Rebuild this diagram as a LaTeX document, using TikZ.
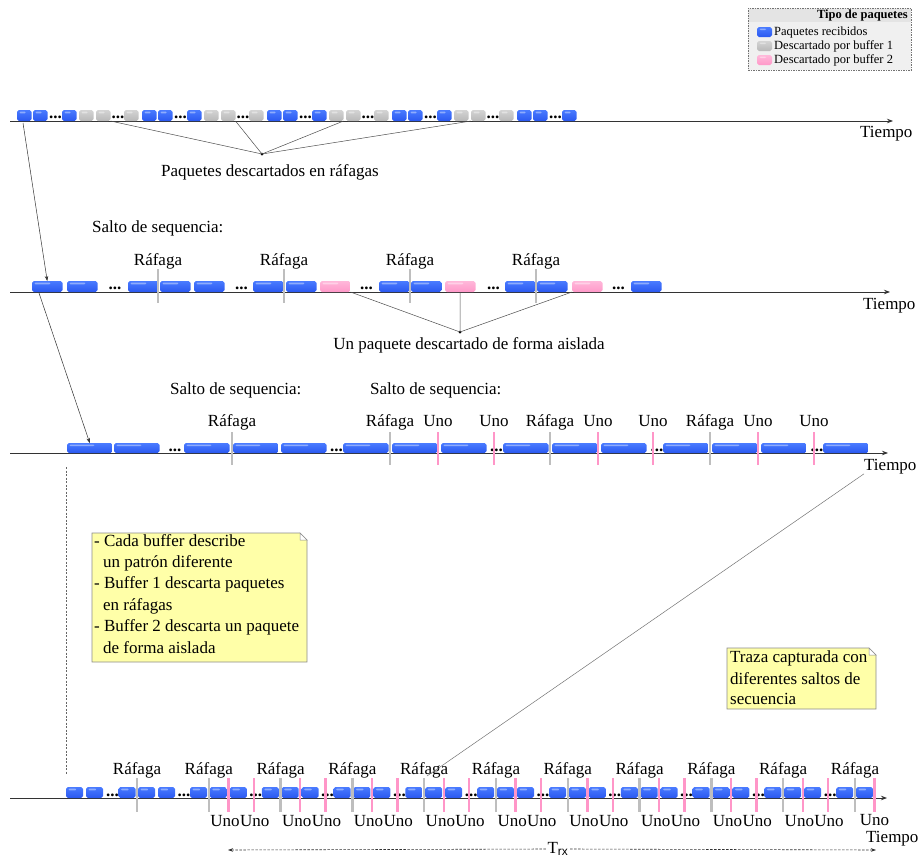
\documentclass[tikz,border=0pt]{standalone}
\usepackage{fontspec}
\setmainfont{Liberation Serif}
\setsansfont{Liberation Sans}
\usetikzlibrary{arrows.meta,calc}
\definecolor{pbT}{HTML}{4A7BFF}
\definecolor{pbB}{HTML}{2A58F0}
\definecolor{pgT}{HTML}{D4D4D4}
\definecolor{pgB}{HTML}{B8B8B8}
\definecolor{ppT}{HTML}{FFB8DA}
\definecolor{ppB}{HTML}{FF98C8}
\definecolor{mkgray}{HTML}{BEBEBE}
\definecolor{mkpink}{HTML}{FF96C8}
\definecolor{notefill}{HTML}{FFFFA8}
\definecolor{legbg}{HTML}{F0F0F0}
\definecolor{leghd}{HTML}{E4E4E4}
\definecolor{axisc}{HTML}{333333}
\tikzset{
  pk/.style={rounded corners=1.8pt, inner sep=0pt, outer sep=0pt, anchor=south west,
    path picture={\fill[white,opacity=.4,rounded corners=1pt]
      ($(path picture bounding box.north west)+(2.5,1.5)$) rectangle
      ($(path picture bounding box.north west)!0.6!(path picture bounding box.east)$);}},
  pB/.style={pk, top color=pbT, bottom color=pbB},
  pG/.style={pk, top color=pgT, bottom color=pgB},
  pP/.style={pk, top color=ppT, bottom color=ppB},
  s1/.style={minimum width=14.5pt, minimum height=11pt},
  s2/.style={minimum width=30.5pt, minimum height=11pt},
  s3/.style={minimum width=45.5pt, minimum height=10pt},
  s4/.style={minimum width=17pt, minimum height=11pt},
  dts/.style={font=\fontsize{17}{20}\selectfont\bfseries, anchor=base, inner sep=0pt},
  mkG/.style={fill=mkgray, draw=none, minimum width=2.4pt, minimum height=34pt, inner sep=0pt},
  mkP/.style={fill=mkpink, draw=none, minimum width=2.4pt, minimum height=34pt, inner sep=0pt},
  lbl/.style={font=\fontsize{17}{20}\selectfont, anchor=base, inner sep=0pt},
  timeline/.style={draw=axisc, line width=0.8pt, -{Stealth[length=6pt,width=4.5pt]}},
  conn/.style={draw=black!70, line width=0.5pt},
  arr/.style={draw=black!80, line width=0.5pt, -{Stealth[length=5pt,width=3.5pt]}},
  dashln/.style={draw=black!80, line width=0.6pt, dash pattern=on 2.5pt off 1.5pt, -{Stealth[length=5pt,width=3.5pt]}},
  notebox/.style={fill=notefill, draw=black!45, line width=0.6pt},
  notefold/.style={fill=white, draw=black!45, line width=0.5pt},
  dotpt/.style={circle, fill=black, inner sep=0pt, minimum size=3pt},
  lgt/.style={font=\fontsize{12.5}{14}\selectfont, anchor=base west, inner sep=0pt},
}
\begin{document}
\begin{tikzpicture}[x=1pt,y=-1pt]
\useasboundingbox (0,0) rectangle (922,857);
% ---------- legend
\node[draw=black!55, dash pattern=on 1.5pt off 1pt, fill=legbg, anchor=north west,
      minimum width=163pt, minimum height=62pt, inner sep=0pt] (leg) at (748,8) {};
\node[fill=leghd, anchor=north west, minimum width=162pt, minimum height=13pt, inner sep=0pt] (leghead) at (748.5,8.5) {};
\node[font=\fontsize{12.5}{14}\selectfont\bfseries, anchor=base east, inner sep=0pt] (legt) at (908,18.5) {Tipo de paquetes};
\node[pB, minimum width=15pt, minimum height=10pt] (ls1) at (757,37) {};
\node[pG, minimum width=15pt, minimum height=10pt] (ls2) at (757,51) {};
\node[pP, minimum width=15pt, minimum height=10pt] (ls3) at (757,65) {};
\node[lgt] (lt1) at (774,35.5) {Paquetes recibidos};
\node[lgt] (lt2) at (774,49.5) {Descartado por buffer 1};
\node[lgt] (lt3) at (774,63.5) {Descartado por buffer 2};
% ---------- timelines
\coordinate (a1s) at (10,121);  \coordinate (a1e) at (893,121);
\coordinate (a2s) at (10,292);  \coordinate (a2e) at (890,292);
\coordinate (a3s) at (10,453);  \coordinate (a3e) at (888,453);
\coordinate (a4s) at (10,798);  \coordinate (a4e) at (887,798);
\draw[timeline] (a1s) -- (a1e);
\draw[timeline] (a2s) -- (a2e);
\draw[timeline] (a3s) -- (a3e);
\draw[timeline] (a4s) -- (a4e);
\node[lbl, anchor=base west] (t1) at (860,137) {Tiempo};
\node[lbl, anchor=base west] (t2) at (863,309) {Tiempo};
\node[lbl, anchor=base west] (t3) at (864,470) {Tiempo};
\node[lbl, anchor=base west] (t4) at (866,842.5) {Tiempo};
% ---------- row 1
\foreach \u [count=\i] in {17,142,267,392}{
  \node[pB,s1] (r1a\i) at (\u,121) {};
  \node[pB,s1] (r1b\i) at (\u+16,121) {};
  \node[dts] (r1x\i) at (\u+38.5,118.5) {...};
  \node[pB,s1] (r1c\i) at (\u+45,121) {};
  \node[pG,s1] (r1d\i) at (\u+62,121) {};
  \node[pG,s1] (r1e\i) at (\u+79,121) {};
  \node[dts] (r1y\i) at (\u+101,118.5) {...};
  \node[pG,s1] (r1f\i) at (\u+107,121) {};
}
\node[pB,s1] (r1a5) at (517,121) {};
\node[pB,s1] (r1b5) at (533,121) {};
\node[dts] (r1x5) at (555.5,118.5) {...};
\node[pB,s1] (r1c5) at (562,121) {};
\node[dotpt] (n1) at (262,154) {};
\draw[conn] (n1.center) -- (r1e1.south east);
\draw[conn] (n1.center) -- (r1e2.south east);
\draw[conn] (n1.center) -- (r1d3.south east);
\draw[conn] (n1.center) -- (r1e4.south west);
\node[lbl] (l1) at (270,176) {Paquetes descartados en ráfagas};
% ---------- row 2
\node[lbl, anchor=base west] (s2) at (92,232) {Salto de sequencia:};
\node[pB,s2] (r2p1) at (32,292) {};
\node[pB,s2] (r2p2) at (67,292) {};
\node[dts] (r2d1) at (115,289) {...};
\node[pB,s2] (r2p3) at (128,292) {};
\node[pB,s2] (r2p4) at (160,292) {};
\node[pB,s2] (r2p5) at (194,292) {};
\node[dts] (r2d2) at (241.5,289) {...};
\node[pB,s2] (r2p6) at (253,292) {};
\node[pB,s2] (r2p7) at (286,292) {};
\node[pP,s2] (r2p8) at (320,292) {};
\node[dts] (r2d3) at (366.5,289) {...};
\node[pB,s2] (r2p9) at (379,292) {};
\node[pB,s2] (r2p10) at (411,292) {};
\node[pP,s2] (r2p11) at (445,292) {};
\node[dts] (r2d4) at (493.5,289) {...};
\node[pB,s2] (r2p12) at (505,292) {};
\node[pB,s2] (r2p13) at (537,292) {};
\node[pP,s2] (r2p14) at (572,292) {};
\node[dts] (r2d5) at (618.5,289) {...};
\node[pB,s2] (r2p15) at (631,292) {};
\foreach \x [count=\i] in {158,284,410,536}{
  \node[mkG] (r2m\i) at (\x,286) {};
  \node[lbl] (r2r\i) at (\x,265) {Ráfaga};
}
\node[dotpt] (n2) at (460,332) {};
\draw[conn] (n2.center) -- (r2p8.south east);
\draw[conn] (n2.center) -- (r2p11.south);
\draw[conn] (n2.center) -- (r2p14.south west);
\node[lbl] (l2) at (469,349) {Un paquete descartado de forma aislada};
\draw[arr] ($(r1a1.south west)+(6,2)$) -- (r2p1.north);
% ---------- row 3
\node[lbl, anchor=base west] (s3a) at (170,394) {Salto de sequencia:};
\node[lbl, anchor=base west] (s3b) at (370,394) {Salto de sequencia:};
\node[pB,s3] (r3p1) at (67,453) {};
\node[pB,s3] (r3p2) at (114,453) {};
\node[dts] (r3d1) at (175,451.5) {...};
\node[pB,s3] (r3p3) at (184,453) {};
\node[pB,s3] (r3p4) at (233,453) {};
\node[pB,s3] (r3p5) at (281,453) {};
\node[dts] (r3d2) at (336.5,451.5) {...};
\node[pB,s3] (r3p6) at (343,453) {};
\node[pB,s3] (r3p7) at (392,453) {};
\node[pB,s3] (r3p8) at (441,453) {};
\node[dts] (r3d3) at (496.5,451.5) {...};
\node[pB,s3] (r3p9) at (503,453) {};
\node[pB,s3] (r3p10) at (552,453) {};
\node[pB,s3] (r3p11) at (601,453) {};
\node[dts] (r3d4) at (657,451.5) {...};
\node[pB,s3] (r3p12) at (663,453) {};
\node[pB,s3] (r3p13) at (712,453) {};
\node[pB,s3] (r3p14) at (761,453) {};
\node[dts] (r3d5) at (817,451.5) {...};
\node[pB,s3] (r3p15) at (823,453) {};
\foreach \x [count=\i] in {232,390,550,710}{
  \node[mkG, minimum height=33pt] (r3m\i) at (\x,448.5) {};
  \node[lbl] (r3r\i) at (\x,426) {Ráfaga};
}
\foreach \x [count=\i] in {438,494,598,653,758,814}{
  \node[mkP, minimum height=33pt] (r3n\i) at (\x,448.5) {};
  \node[lbl] (r3u\i) at (\x,426) {Uno};
}
\draw[arr] ($(r2p1.south west)+(7,1)$) -- (r3p1.north);
% ---------- notes
\filldraw[notebox] (92,533) -- (300,533) -- (307,540) -- (307,662) -- (92,662) -- cycle;
\filldraw[notefold] (300,533) -- (300,540) -- (307,540) -- cycle;
\node[lbl, anchor=base west] (m1) at (94,546) {- Cada buffer describe};
\node[lbl, anchor=base west] (m2) at (103,567.4) {un patrón diferente};
\node[lbl, anchor=base west] (m3) at (94,588.8) {- Buffer 1 descarta paquetes};
\node[lbl, anchor=base west] (m4) at (103,610.2) {en ráfagas};
\node[lbl, anchor=base west] (m5) at (94,631.6) {- Buffer 2 descarta un paquete};
\node[lbl, anchor=base west] (m6) at (103,653) {de forma aislada};
\filldraw[notebox] (727,648) -- (869,648) -- (876,655) -- (876,709) -- (727,709) -- cycle;
\filldraw[notefold] (869,648) -- (869,655) -- (876,655) -- cycle;
\node[lbl, anchor=base west] (q1) at (730,662.5) {Traza capturada con};
\node[lbl, anchor=base west] (q2) at (730,684) {diferentes saltos de};
\node[lbl, anchor=base west] (q3) at (730,704.5) {secuencia};
% ---------- bottom row
\coordinate (v1) at (66,467);
\coordinate (v2) at (66,775);
\draw[draw=black!60, line width=0.5pt, dash pattern=on 2pt off 1.5pt] (v1) -- (v2);
\node[pB,s4] (r4p1) at (66,798) {};
\node[pB,s4] (r4p2) at (86,798) {};
\node[dts] (r4p3) at (112.5,796.5) {...};
\node[pB,s4] (r4p4) at (118.5,798) {};
\foreach \k in {0,...,9}{
  \pgfmathsetmacro\g{137+71.8*\k}
  \node[pB,s4] (r4a\k) at (\g+1,798) {};
  \node[pB,s4] (r4b\k) at (\g+21,798) {};
  \node[dts] (r4d\k) at (\g+47,796.5) {...};
  \node[pB,s4] (r4c\k) at (\g+53,798) {};
}
\node[pB,s4] (r4e) at (856,798) {};
\foreach \k in {0,...,10}{
  \pgfmathsetmacro\g{137+71.8*\k}
  \node[mkG] (r4m\k) at (\g,795) {};
  \node[lbl] (r4r\k) at (\g,774) {Ráfaga};
}
\foreach \k in {1,...,9}{
  \pgfmathsetmacro\g{137+71.8*\k}
  \node[mkP] (r4n\k) at (\g+19.5,795) {};
  \node[mkP] (r4o\k) at (\g+45,795) {};
  \node[lbl, anchor=base east] (r4u\k) at (\g+31,826) {Uno};
  \node[lbl, anchor=base west] (r4v\k) at (\g+31,826) {Uno};
}
\node[mkP] (r4n10) at (874.5,795) {};
\node[lbl] (r4u10) at (874.5,825) {Uno};
\coordinate (c4) at (427,776);
\draw[conn, draw=black!55] (t3.south west) -- (c4);
% ---------- T_rx
\node[lbl, anchor=center, fill=white, inner sep=1.5pt] (trx) at (558,849) {T\textsubscript{\sffamily rx}};
\coordinate (tl) at (228,850);
\coordinate (tr) at (876,850);
\draw[dashln] (trx.west) -- (tl);
\draw[dashln] (trx.east) -- (tr);
\end{tikzpicture}
\end{document}
